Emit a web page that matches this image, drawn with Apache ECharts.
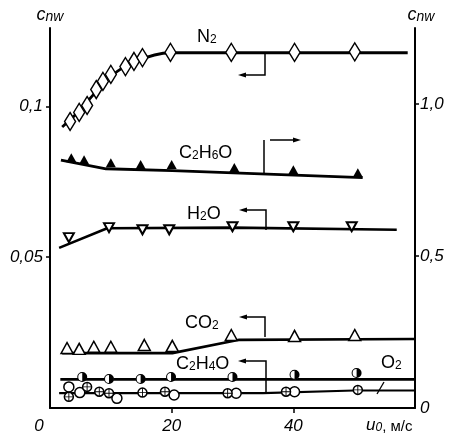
<!DOCTYPE html>
<html>
<head>
<meta charset="utf-8">
<script src="https://cdn.jsdelivr.net/npm/echarts@6/dist/echarts.min.js"></script>
<style>
  html, body { margin: 0; padding: 0; background: #fff; }
  #chart { width: 453px; height: 441px; }
</style>
</head>
<body>
<div id="chart"></div>
<script>
// x: u0, m/s ; left axis c_nw ; right axis (C2H6O only)
const xTickLabels = [0, 20, 40]
const leftTickLabels = [0.05, 0.1]
const rightTickLabels = [0, 0.5, 1.0]

const n2Points = [[3.3, 0.0950], [4.8, 0.0980], [6.1, 0.1003], [7.6, 0.1056], [8.7, 0.1083], [10.0, 0.1106],
  [12.4, 0.1132], [13.8, 0.1149], [15.2, 0.1162], [19.8, 0.1179], [29.8, 0.1179], [40.2, 0.1179], [50.1, 0.1181]]
const n2Curve = [[2.0, 0.0932], [4.8, 0.0985], [7.6, 0.1050], [10.0, 0.1100], [13.8, 0.1148], [19.8, 0.1178], [40, 0.1178], [58.8, 0.1178]]

// right axis
const c2h6oPoints = [[3.5, 0.823], [5.6, 0.817], [10.0, 0.807], [14.9, 0.801], [20.0, 0.801], [30.3, 0.791], [40.0, 0.784], [50.6, 0.774]]
const c2h6oCurve = [[1.8, 0.815], [9.2, 0.787], [20.1, 0.781], [51.4, 0.758]]

const h2oPoints = [[3.1, 0.0565], [9.7, 0.0598], [15.2, 0.0591], [19.6, 0.0591], [30.0, 0.0601], [40.0, 0.0601], [49.6, 0.0601]]
const h2oCurve = [[1.5, 0.0531], [9.4, 0.0596], [30, 0.0598], [57.0, 0.0591]]

const co2Points = [[2.8, 0.0199], [4.8, 0.0196], [7.2, 0.0203], [10.0, 0.0203], [15.5, 0.0209], [20.1, 0.0206], [29.8, 0.0242], [40.2, 0.0239], [50.1, 0.0242]]
const co2Curve = [[2.0, 0.0182], [20.1, 0.0182], [31.1, 0.0226], [60, 0.0229]]

const c2h4oPoints = [[5.3, 0.0103], [9.7, 0.0096], [14.9, 0.0096], [19.9, 0.0103], [30.0, 0.0103], [40.2, 0.0110], [50.4, 0.0116]]
const c2h4oCurve = [[1.7, 0.0095], [60, 0.0095]]

const o2CrossPoints = [[3.1, 0.0037], [6.1, 0.0070], [8.1, 0.0054], [9.7, 0.0049], [15.2, 0.0051], [18.9, 0.0054], [29.2, 0.0049], [38.8, 0.0054], [50.6, 0.0060]]
const o2OpenPoints = [[3.1, 0.0070], [4.9, 0.0051], [11.0, 0.0032], [20.4, 0.0043], [30.6, 0.0049], [40.2, 0.0054]]
const o2Curve = [[1.5, 0.0049], [35, 0.0049], [50, 0.0058], [60, 0.0058]]

const FONT = 'Liberation Sans'
const INK = '#000'
const halfPath = 'path://M10 0A10 10 0 1 1 10 20A10 10 0 1 1 10 0Z M10 2A8 8 0 1 0 10 18A8 8 0 1 0 10 2Z M10 2A8 8 0 0 1 10 18Z'
const crossPath = 'path://M0 9H20V11H0Z M9 0H11V20H9Z'

function curve(data, yIdx, width, smooth) {
  return {
    type: 'line', data: data, yAxisIndex: yIdx || 0, showSymbol: false, smooth: smooth || false,
    lineStyle: { color: INK, width: width || 2.5 }, z: 2, silent: true, animation: false
  }
}
function marks(data, symbol, size, style, yIdx, extra) {
  return Object.assign({
    type: 'scatter', data: data, yAxisIndex: yIdx || 0, symbol: symbol, symbolSize: size,
    itemStyle: Object.assign({ opacity: 1 }, style), z: 3, animation: false
  }, extra || {})
}

const open = { color: '#fff', borderColor: INK, borderWidth: 1.5 }
const solid = { color: INK, borderWidth: 0 }

const chemRich = {
  m: { fontFamily: FONT, fontSize: 18, color: INK, verticalAlign: 'bottom', lineHeight: 22 },
  s: { fontFamily: FONT, fontSize: 12, color: INK, verticalAlign: 'bottom', lineHeight: 6 }
}
function chem(x, y, text) {
  return { type: 'text', x: x, y: y, style: { text: text, rich: chemRich } }
}
function arrowLeft(points) {
  const e = points[points.length - 1]
  return [
    { type: 'polyline', shape: { points: points }, style: { stroke: INK, lineWidth: 1.5, fill: null } },
    { type: 'polygon', shape: { points: [[e[0] - 7, e[1]], [e[0] + 1, e[1] - 2.5], [e[0] + 1, e[1] + 2.5]] }, style: { fill: INK } }
  ]
}
const nameRich = {
  c: { fontFamily: FONT, fontStyle: 'italic', fontSize: 18, color: INK, verticalAlign: 'bottom', lineHeight: 18 },
  s: { fontFamily: FONT, fontStyle: 'italic', fontSize: 14, color: INK, verticalAlign: 'bottom', lineHeight: 8 }
}

const chart = echarts.init(document.getElementById('chart'))
chart.setOption({
  backgroundColor: '#fff',
  animation: false,
  grid: { left: 50, right: 38, top: 28, bottom: 33 },
  xAxis: {
    type: 'value', min: 0, max: 60,
    axisLine: { lineStyle: { color: INK, width: 2 } },
    splitLine: { show: false },
    axisTick: { customValues: [20, 40], length: 5, lineStyle: { color: INK, width: 1.5 } },
    axisLabel: {
      customValues: xTickLabels, margin: 10,
      fontFamily: FONT, fontStyle: 'italic', fontSize: 17, color: INK,
      formatter: v => v === 0 ? '{z|0}' : String(v),
      rich: { z: { fontFamily: FONT, fontStyle: 'italic', fontSize: 17, color: INK, padding: [0, 22, 0, 0] } }
    }
  },
  yAxis: [
    {
      type: 'value', min: 0, max: 0.126, position: 'left',
      name: '{c|c}{s|nw}', nameLocation: 'end', nameGap: 4,
      nameTextStyle: { rich: nameRich },
      axisLine: { show: true, lineStyle: { color: INK, width: 2 } },
      splitLine: { show: false },
      axisTick: { show: true, customValues: leftTickLabels, length: 4, lineStyle: { color: INK, width: 1.5 } },
      axisLabel: {
        customValues: leftTickLabels, margin: 7,
        fontFamily: FONT, fontStyle: 'italic', fontSize: 17, color: INK,
        formatter: v => String(+v.toFixed(3)).replace('.', ',')
      }
    },
    {
      type: 'value', min: 0, max: 1.25, position: 'right',
      name: '{c|c}{s|nw}', nameLocation: 'end', nameGap: 4,
      nameTextStyle: { padding: [0, 0, 0, 12], rich: nameRich },
      axisLine: { show: true, lineStyle: { color: INK, width: 2 } },
      splitLine: { show: false },
      axisTick: { show: true, customValues: [0.5, 1.0], length: 4, lineStyle: { color: INK, width: 1.5 } },
      axisLabel: {
        customValues: rightTickLabels, margin: 5,
        fontFamily: FONT, fontStyle: 'italic', fontSize: 17, color: INK,
        formatter: v => v === 0 ? '0' : v.toFixed(1).replace('.', ',')
      }
    }
  ],
  series: [
    curve(n2Curve, 0, 2.8, 0.3),
    marks(n2Points, 'diamond', [11, 18], open),
    curve(c2h6oCurve, 1, 2.8),
    marks(c2h6oPoints, 'triangle', [10, 9], solid, 1),
    curve(h2oCurve, 0, 2.6),
    marks(h2oPoints, 'triangle', [10, 9], { color: '#fff', borderColor: INK, borderWidth: 2 }, 0, { symbolRotate: 180 }),
    curve(co2Curve, 0, 2.6),
    marks(co2Points, 'triangle', [12, 11], open),
    curve(c2h4oCurve, 0, 2.6),
    marks(c2h4oPoints, 'circle', 9, { color: '#fff' }),
    marks(c2h4oPoints, halfPath, 10, solid),
    curve(o2Curve, 0, 2.2),
    marks(o2OpenPoints, 'circle', 10, open),
    marks(o2CrossPoints, 'circle', 9, open),
    marks(o2CrossPoints, crossPath, 9, solid)
  ],
  graphic: [
    chem(197, 24, '{m|N}{s|2}'),
    chem(179, 140, '{m|C}{s|2}{m|H}{s|6}{m|O}'),
    chem(187, 201, '{m|H}{s|2}{m|O}'),
    chem(185, 310, '{m|CO}{s|2}'),
    chem(176, 351, '{m|C}{s|2}{m|H}{s|4}{m|O}'),
    chem(381, 350, '{m|O}{s|2}'),
    ...arrowLeft([[265, 52], [265, 75], [245, 75]]),
    { type: 'polyline', shape: { points: [[264, 140], [264, 173]] }, style: { stroke: INK, lineWidth: 1.5, fill: null } },
    { type: 'polyline', shape: { points: [[270, 140], [294, 140]] }, style: { stroke: INK, lineWidth: 1.5, fill: null } },
    { type: 'polygon', shape: { points: [[301, 140], [293, 137.5], [293, 142.5]] }, style: { fill: INK } },
    ...arrowLeft([[266, 230], [266, 210], [246, 210]]),
    ...arrowLeft([[265, 337], [265, 317], [246, 317]]),
    ...arrowLeft([[266, 393], [266, 361], [245, 361]]),
    { type: 'polyline', shape: { points: [[384, 382], [377, 394]] }, style: { stroke: INK, lineWidth: 1.3, fill: null } },
    {
      type: 'text', x: 366, y: 416,
      style: {
        text: '{u|u}{o|0}{r|, м/с}',
        rich: {
          u: { fontFamily: FONT, fontStyle: 'italic', fontSize: 17, color: INK, verticalAlign: 'bottom', lineHeight: 18 },
          o: { fontFamily: FONT, fontStyle: 'italic', fontSize: 12, color: INK, verticalAlign: 'bottom', lineHeight: 6 },
          r: { fontFamily: FONT, fontSize: 15, color: INK, verticalAlign: 'bottom', lineHeight: 18 }
        }
      }
    }
  ]
})
</script>
</body>
</html>
